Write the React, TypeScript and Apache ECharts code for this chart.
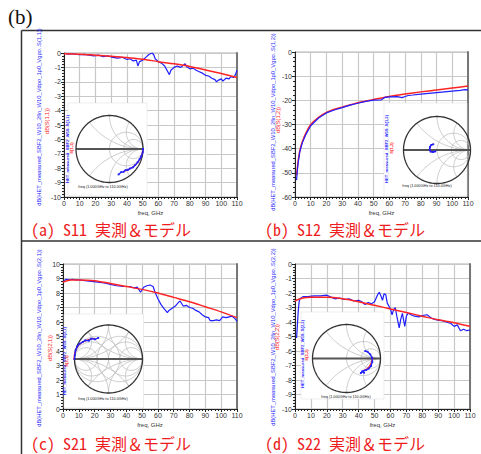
import React, { useEffect, useRef } from "react";
import * as echarts from "echarts";

// ---------------- data ----------------
const s11Model: [number, number][] = [[0,-0.05],[10,-0.08],[20,-0.15],[30,-0.22],[40,-0.32],[50,-0.43],[60,-0.6],[70,-0.75],[80,-0.93],[90,-1.18],[100,-1.43],[110,-1.7]];
const s11Meas: [number, number][] = [[1,-0.05],[3,-0.08],[5,-0.05],[8,-0.1],[10,-0.12],[13,-0.1],[16,-0.15],[19,-0.2],[22,-0.15],[25,-0.25],[28,-0.2],[31,-0.3],[34,-0.35],[37,-0.3],[40,-0.45],[42,-0.4],[44,-0.55],[46,-0.5],[47,-0.9],[48,-0.6],[50,-0.5],[52,-0.3],[54,-0.1],[56,0],[57,-0.1],[58,-0.4],[60,-0.6],[62,-0.7],[64,-0.9],[65,-1.1],[66,-1.3],[67,-1.5],[68,-1.2],[70,-1.0],[72,-0.9],[74,-1.0],[76,-0.85],[77,-0.75],[78,-0.95],[80,-1.1],[82,-1.05],[84,-1.2],[86,-1.3],[88,-1.4],[90,-1.55],[92,-1.6],[94,-1.75],[96,-1.85],[97,-2.0],[98,-1.9],[100,-1.8],[101,-1.95],[103,-1.75],[105,-1.8],[106,-1.65],[108,-1.7],[109,-1.5],[110,-1.2]];

const s12Model: [number, number][] = [[1,-51],[1.5,-48],[2,-45],[3,-41],[4,-38.5],[5,-36.5],[7,-33.5],[10,-30],[15,-27],[20,-25],[25,-23.7],[30,-22.8],[40,-21],[50,-19.7],[60,-18.4],[70,-17.4],[80,-16.5],[90,-15.7],[100,-14.9],[110,-14.1]];
const s12Meas: [number, number][] = [[1,-53],[1.5,-49],[2,-46],[3,-41.5],[4,-39],[5,-37],[7,-34],[10,-30.5],[15,-27.3],[20,-25.2],[25,-24],[30,-23],[35,-22],[40,-21.2],[45,-20.4],[50,-19.9],[55,-19.8],[57,-18.8],[60,-18.6],[65,-18.5],[68,-18.9],[70,-18.4],[72,-18],[75,-17.8],[80,-17.4],[85,-17.1],[90,-16.8],[95,-16.5],[100,-16.2],[105,-15.9],[108,-15.6],[110,-15.7]];

const s21Model: [number, number][] = [[0,8.75],[5,8.9],[10,8.9],[20,8.85],[30,8.65],[40,8.45],[50,8.25],[60,8.0],[70,7.7],[80,7.4],[90,7.05],[100,6.7],[110,6.3]];
const s21Meas: [number, number][] = [[0.5,8.85],[2,8.95],[4,8.9],[6,8.95],[8,8.9],[10,8.9],[14,8.85],[18,8.8],[22,8.75],[26,8.7],[30,8.6],[34,8.5],[38,8.45],[42,8.45],[45,8.35],[47,8.4],[49,8.05],[51,8.4],[53,8.5],[55,8.55],[57,8.45],[58,8.1],[60,7.6],[62,7.2],[64,6.9],[66,6.65],[67,6.8],[69,6.95],[71,7.1],[73,7.35],[74,7.45],[76,7.1],[78,7.15],[80,7.0],[82,6.95],[84,6.8],[86,6.7],[88,6.5],[90,6.35],[92,6.3],[93,6.1],[95,6.1],[97,6.15],[99,6.1],[101,6.35],[103,6.3],[105,6.35],[107,6.4],[109,6.2],[110,6.05]];

const s22Model: [number, number][] = [[0,-2.55],[5,-2.35],[10,-2.3],[20,-2.3],[30,-2.4],[40,-2.6],[50,-2.85],[60,-3.1],[70,-3.35],[80,-3.6],[90,-3.85],[100,-4.05],[110,-4.3]];
const s22Meas: [number, number][] = [[1,-5.1],[1.5,-4.2],[2,-3.3],[2.5,-2.7],[3,-2.4],[5,-2.25],[8,-2.25],[12,-2.2],[16,-2.2],[20,-2.15],[23,-2.3],[25,-2.4],[28,-2.35],[31,-2.45],[34,-2.4],[37,-2.55],[40,-2.5],[42,-2.6],[44,-2.8],[46,-2.65],[48,-2.75],[50,-2.6],[52,-2.1],[53,-1.95],[54,-2.2],[55,-2.5],[56,-2.05],[57,-2.1],[58,-2.7],[60,-3.1],[61,-3.5],[62,-3.15],[63,-3.0],[64,-3.6],[65.5,-4.4],[66.5,-3.8],[67.5,-3.4],[69,-4.3],[70,-3.6],[71,-3.4],[73,-3.5],[75,-3.6],[78,-3.65],[80,-3.55],[83,-3.5],[86,-3.75],[89,-3.85],[92,-3.9],[95,-4.0],[98,-4.1],[100,-4.3],[102,-4.2],[104,-4.6],[106,-4.5],[108,-4.6],[110,-4.55]];

// Smith chart traces (reflection coefficient, re / im)
const smith11Meas: [number, number][] = [[1.0,0.0],[0.99,-0.1],[0.95,-0.22],[0.9,-0.3],[0.84,-0.4],[0.77,-0.48],[0.7,-0.55],[0.62,-0.58],[0.55,-0.62],[0.48,-0.63],[0.42,-0.68],[0.35,-0.69],[0.27,-0.76]];
const smith11Model: [number, number][] = [[1.0,-0.02],[0.96,-0.18],[0.89,-0.33],[0.8,-0.45],[0.68,-0.55],[0.55,-0.62],[0.42,-0.68]];
const smith12Meas: [number, number][] = [[-0.05,-0.04],[-0.12,-0.06],[-0.19,-0.05],[-0.22,0.01],[-0.21,0.09],[-0.17,0.15],[-0.11,0.17]];
const smith12Model: [number, number][] = [[-0.06,-0.05],[-0.13,-0.06],[-0.2,-0.03],[-0.22,0.04],[-0.2,0.11],[-0.15,0.16],[-0.09,0.18]];
const smith21Meas: [number, number][] = [[-1.0,0.0],[-0.99,0.12],[-0.97,0.25],[-0.92,0.37],[-0.85,0.45],[-0.76,0.5],[-0.68,0.55],[-0.58,0.54],[-0.5,0.6],[-0.4,0.58],[-0.3,0.62]];
const smith21Model: [number, number][] = [[-1.02,-0.03],[-1.0,0.14],[-0.95,0.3],[-0.86,0.43],[-0.72,0.52],[-0.56,0.58],[-0.4,0.61]];
const smith22Meas: [number, number][] = [[0.55,0.22],[0.62,0.2],[0.7,0.12],[0.75,0.02],[0.76,-0.1],[0.72,-0.22],[0.65,-0.3],[0.58,-0.34],[0.5,-0.36],[0.42,-0.43],[0.46,-0.38],[0.52,-0.42]];
const smith22Model: [number, number][] = [[0.76,0.05],[0.75,-0.05],[0.72,-0.15],[0.66,-0.25],[0.58,-0.32],[0.5,-0.36]];

const captions = ["(a) S11 実測＆モデル", "(b) S12 実測＆モデル", "(c) S21 実測＆モデル", "(d) S22 実測＆モデル"];
const blueLabels = [
  "dB(HET_measured_SBF2_W10_2fin_W10_Vdpo_1p0_Vgpo..S(1,1))",
  "dB(HET_measured_SBF2_W10_2fin_W10_Vdpo_1p0_Vgpo..S(1,2))",
  "dB(HET_measured_SBF2_W10_2fin_W10_Vdpo_1p0_Vgpo..S(2,1))",
  "dB(HET_measured_SBF2_W10_2fin_W10_Vdpo_1p0_Vgpo..S(2,2))",
];
const redLabels = ["dB(S(1,1))", "dB(S(1,2))", "dB(S(2,1))", "dB(S(2,2))"];
const insetRed = ["S(1,1)", "S(1,2)", "S(2,1)", "S(2,2)"];
const insetBlue = ["HET_measured_SBF2_W10..S(1,1)", "HET_measured_SBF2_W10..S(1,2)", "HET_measured_SBF2_W10..S(2,1)", "HET_measured_SBF2_W10..S(2,2)"];
const insetFreq = "freq (1.000GHz to 110.0GHz)";

// ---------------- layout ----------------
const mainGrids = [
  { left: 64, top: 53, width: 173, height: 144 },
  { left: 295, top: 52, width: 173, height: 145 },
  { left: 63, top: 264, width: 174, height: 145 },
  { left: 295, top: 264, width: 175, height: 145 },
];
const yRanges = [[-10, 0, 1], [-60, 0, 10], [0, 10, 1], [-10, 0, 1]];
const smithPos = [[109.5, 149, 33.5], [437, 150, 33.5], [108.5, 359, 34], [346.5, 358.5, 34]];
const insetRects = [[68, 103, 79, 93], [384, 103, 83, 93], [64, 314, 79.5, 94], [301, 312, 83, 87]];
const captionPos = [[31, 229], [265, 229], [31, 443], [265, 443]];
const blueLabelPos = [[38.5, 117], [272.5, 122], [39, 338], [272.5, 337]];
const redLabelPos = [[47, 121], [277.5, 120], [50, 348], [277, 337]];
const insetBluePos = [[67, 149, 92], [386, 149, 92], [64.5, 361, 94], [302, 354, 82]];
const insetRedPos = [[71, 148], [391.5, 148], [66, 361], [306.5, 355]];
const insetFreqPos = [[103, 187], [427, 186], [103, 399], [346, 397]];

const BLUE = "#1f1fff";
const RED = "#ff2424";
const SANS = "'Liberation Sans', Arial, sans-serif";

// ---------------- Smith chart grid helpers ----------------
function gammaOf(r: number, x: number): [number, number] {
  const d = (r + 1) * (r + 1) + x * x;
  return [(r * r - 1 + x * x) / d, (2 * x) / d];
}
function resistanceCircle(r: number): [number, number][] {
  const pts: [number, number][] = [];
  for (let a = -90; a <= 90; a += 1) {
    if (a === -90 || a === 90) { pts.push([1, 0]); continue; }
    pts.push(gammaOf(r, Math.tan((a * Math.PI) / 180)));
  }
  return pts;
}
function reactanceArc(x: number): [number, number][] {
  const pts: [number, number][] = [];
  for (let i = 0; i <= 100; i++) {
    const t = i / 100;
    if (i === 100) { pts.push([1, 0]); continue; }
    pts.push(gammaOf(t / (1 - t), x));
  }
  return pts;
}
function smithGridSeries(k: number, rs: number[], xs: number[], admittance: boolean) {
  const curves: [number, number][][] = [];
  rs.forEach((r) => curves.push(resistanceCircle(r)));
  xs.forEach((x) => { curves.push(reactanceArc(x)); curves.push(reactanceArc(-x)); });
  if (admittance) {
    const m = curves.map((c) => c.map(([a, b]) => [-a, -b] as [number, number]));
    curves.push(...m);
  }
  const base = { type: "line", xAxisIndex: 4 + k, yAxisIndex: 4 + k, showSymbol: false, silent: true, z: 10, clip: false };
  const out: any[] = curves.map((c) => ({ ...base, data: c, lineStyle: { color: "#bcbcbc", width: 0.8 } }));
  out.push({ ...base, data: [[-1, 0], [1, 0]], lineStyle: { color: "#555", width: 2 } });
  out.push({ ...base, data: resistanceCircle(0), lineStyle: { color: "#333", width: 1.3 } });
  return out;
}

export default function App() {
  const ref = useRef<HTMLDivElement>(null);
  useEffect(() => {
    if (!ref.current) return;
    const chart = echarts.init(ref.current, undefined, { renderer: "svg" });

    const grids: any[] = [];
    const xAxes: any[] = [];
    const yAxes: any[] = [];
    mainGrids.forEach((g) => grids.push({ ...g, show: true, borderColor: "#b0b0b0", borderWidth: 1 }));
    smithPos.forEach(([cx, cy, r]) => grids.push({ left: cx - r, top: cy - r, width: 2 * r, height: 2 * r }));

    mainGrids.forEach((_, i) => {
      xAxes.push({
        type: "value", gridIndex: i, min: 0, max: 110, interval: 10,
        name: "freq, GHz", nameLocation: "middle", nameGap: 13,
        nameTextStyle: { fontSize: 6, color: "#333", fontFamily: SANS },
        axisLine: { show: true, onZero: false, lineStyle: { color: "#222", width: 1 } },
        axisTick: { show: true, length: 3, lineStyle: { color: "#222" } },
        minorTick: { show: true, splitNumber: 5, length: 2, lineStyle: { color: "#222" } },
        axisLabel: { fontSize: 7, color: "#333", margin: 3, fontFamily: SANS },
        splitLine: { show: true, lineStyle: { color: "#c8c8c8", width: 1.2 } },
      });
    });
    smithPos.forEach((_, k) => xAxes.push({ type: "value", gridIndex: 4 + k, min: -1, max: 1, show: false }));

    mainGrids.forEach((_, i) => {
      const [mn, mx, iv] = yRanges[i];
      yAxes.push({
        type: "value", gridIndex: i, min: mn, max: mx, interval: iv,
        axisLine: { show: true, onZero: false, lineStyle: { color: "#222", width: 1 } },
        axisTick: { show: true, length: 3, lineStyle: { color: "#222" } },
        minorTick: { show: true, splitNumber: 5, length: 2, lineStyle: { color: "#222" } },
        axisLabel: { fontSize: 7, color: "#333", margin: 3, fontFamily: SANS },
        splitLine: { show: true, lineStyle: { color: "#c8c8c8", width: 1.2 } },
      });
    });
    smithPos.forEach((_, k) => yAxes.push({ type: "value", gridIndex: 4 + k, min: -1, max: 1, show: false }));
    mainGrids.forEach((_, i) => {
      const [mn, mx] = yRanges[i];
      yAxes.push({
        type: "value", gridIndex: i, position: "right", min: mn, max: mx,
        axisLine: { show: true, onZero: false, lineStyle: { color: "#777", width: 2 } },
        axisTick: { show: false }, axisLabel: { show: false }, splitLine: { show: false },
      });
    });

    const mains = [[s11Meas, s11Model], [s12Meas, s12Model], [s21Meas, s21Model], [s22Meas, s22Model]];
    const smiths = [[smith11Meas, smith11Model], [smith12Meas, smith12Model], [smith21Meas, smith21Model], [smith22Meas, smith22Model]];

    const series: any[] = [];
    mains.forEach(([meas, model], i) => {
      const blue = { type: "line", xAxisIndex: i, yAxisIndex: i, data: meas, showSymbol: false, lineStyle: { color: BLUE, width: 1.2 }, z: 3 };
      const red = { type: "line", xAxisIndex: i, yAxisIndex: i, data: model, smooth: 0.3, showSymbol: false, lineStyle: { color: RED, width: 1.5 }, z: i === 1 ? 2 : 4 };
      series.push(blue, red);
    });
    series.push(...smithGridSeries(0, [1, 2.5], [0.5, 1, 2], false));
    series.push(...smithGridSeries(1, [1, 2.5], [0.5, 1, 2], false));
    series.push(...smithGridSeries(2, [0.5, 1, 2], [0.5, 1, 2], true));
    series.push(...smithGridSeries(3, [1, 2.5], [0.5, 1, 2], false));
    smiths.forEach(([meas, model], k) => {
      series.push({ type: "line", xAxisIndex: 4 + k, yAxisIndex: 4 + k, data: model, showSymbol: false, clip: false, lineStyle: { color: RED, width: 1.2 }, z: 11 });
      series.push({ type: "line", xAxisIndex: 4 + k, yAxisIndex: 4 + k, data: meas, symbol: "rect", symbolSize: 1.8, itemStyle: { color: BLUE }, clip: false, lineStyle: { color: BLUE, width: 1.3 }, z: 12 });
    });

    const graphics: any[] = [];
    graphics.push({ type: "text", x: 8, y: 17, style: { text: "(b)", fill: "#111", fontSize: 21, fontFamily: "'Liberation Serif', 'Times New Roman', serif", align: "left", verticalAlign: "middle" } });
    const border = { stroke: "#333", lineWidth: 1.5 };
    graphics.push({ type: "line", shape: { x1: 21.5, y1: 30.5, x2: 481, y2: 30.5 }, style: border });
    graphics.push({ type: "line", shape: { x1: 21.5, y1: 30.5, x2: 21.5, y2: 454 }, style: border });
    graphics.push({ type: "line", shape: { x1: 21.5, y1: 241, x2: 481, y2: 241 }, style: border });
    captions.forEach((c, i) => {
      graphics.push({ type: "text", x: captionPos[i][0], y: captionPos[i][1], style: { text: c, fill: "#ee1c1c", fontSize: 16, fontFamily: "'Noto Sans Mono CJK JP', 'Noto Sans CJK JP', sans-serif", align: "left", verticalAlign: "middle" } });
      graphics.push({ type: "text", x: blueLabelPos[i][0], y: blueLabelPos[i][1], rotation: Math.PI / 2, style: { text: blueLabels[i], fill: BLUE, fontSize: 5.8, fontFamily: SANS, align: "center", verticalAlign: "middle" } });
      graphics.push({ type: "text", x: redLabelPos[i][0], y: redLabelPos[i][1], rotation: Math.PI / 2, style: { text: redLabels[i], fill: RED, fontSize: 5.6, fontFamily: SANS, align: "center", verticalAlign: "middle" } });
      const [rx, ry, rw, rh] = insetRects[i];
      graphics.push({ type: "rect", z: 5, shape: { x: rx, y: ry, width: rw, height: rh }, style: { fill: "#fff", stroke: "#e2e2e2", lineWidth: 0.6 } });
      graphics.push({ type: "text", z: 13, x: insetBluePos[i][0], y: insetBluePos[i][1], rotation: Math.PI / 2, style: { text: insetBlue[i], fill: BLUE, fontSize: 4.2, fontWeight: "bold", fontFamily: SANS, align: "center", verticalAlign: "middle" } });
      graphics.push({ type: "text", z: 13, x: insetRedPos[i][0], y: insetRedPos[i][1], rotation: Math.PI / 2, style: { text: insetRed[i], fill: RED, fontSize: 4.2, fontWeight: "bold", fontFamily: SANS, align: "center", verticalAlign: "middle" } });
      graphics.push({ type: "text", z: 13, x: insetFreqPos[i][0], y: insetFreqPos[i][1], style: { text: insetFreq, fill: "#222", fontSize: 3.8, fontFamily: SANS, align: "center", verticalAlign: "middle" } });
    });

    chart.setOption({
      animation: false,
      backgroundColor: "#fff",
      grid: grids,
      xAxis: xAxes,
      yAxis: yAxes,
      series,
      graphic: { elements: graphics },
    });
    return () => chart.dispose();
  }, []);
  return <div ref={ref} style={{ position: "absolute", left: 0, top: 0, width: 481, height: 454 }} />;
}
